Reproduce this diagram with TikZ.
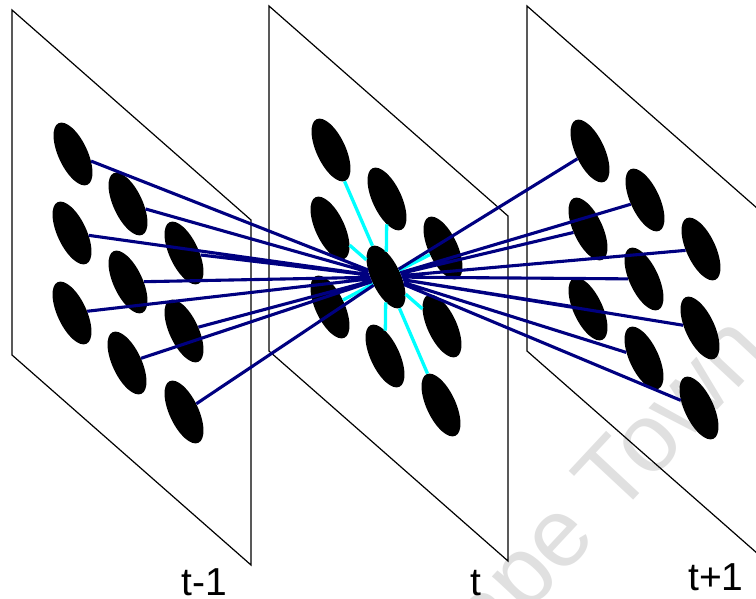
\documentclass[tikz,border=0pt]{standalone}
\usepackage{fontspec}
\setmainfont{Liberation Sans}
\usepackage{xcolor}
\usetikzlibrary{shapes.geometric,positioning}
\definecolor{linkblue}{RGB}{0,0,128}
\definecolor{nbrcyan}{RGB}{0,255,255}
\tikzset{
    cell/.style={ellipse, fill=black, minimum width=29pt, minimum height=68pt, inner sep=0pt, rotate=25},
    frame/.style={draw, line width=1.2pt, line join=miter},
    link/.style={draw=linkblue, line width=3.1pt},
    nbr/.style={draw=nbrcyan, line width=3.3pt},
    tlabel/.style={font=\fontsize{39}{40}\selectfont, inner sep=0pt, anchor=base},
    watermark/.style={font=\fontsize{97}{97}\selectfont, text=black!12, inner sep=0pt, anchor=base, rotate=47}
}

\begin{document}
\begin{tikzpicture}[x=1pt, y=-1pt]
    \useasboundingbox (0,0) rectangle (756,599);
    % Watermark
    \node[watermark] (mark) at (606,530) {Cape Town};
    % Frame t-1
    \draw[frame] (12,10) -- (251,220) -- (251,565) -- (12,355) -- cycle;
    % Frame t
    \draw[frame] (269,6) -- (508,216) -- (508,561) -- (269,351) -- cycle;
    % Frame t+1
    \draw[frame] (527,6) -- (766,216) -- (766,561) -- (527,351) -- cycle;

    % Cells at t-1
    \node[cell] (prev1) at (73,154) {};
    \node[cell] (prev2) at (128,204) {};
    \node[cell] (prev3) at (184,253) {};
    \node[cell] (prev4) at (72,233) {};
    \node[cell] (prev5) at (128,282) {};
    \node[cell] (prev6) at (184,331) {};
    \node[cell] (prev7) at (72,313) {};
    \node[cell] (prev8) at (127,363) {};
    \node[cell] (prev9) at (184,412) {};
    % Cells at t
    \node[cell] (cur1) at (331,150) {};
    \node[cell] (cur2) at (387,199) {};
    \node[cell] (cur3) at (443,248) {};
    \node[cell] (cur4) at (330,228) {};
    \node[cell] (cur5) at (386,277) {};
    \node[cell] (cur6) at (442,326) {};
    \node[cell] (cur7) at (330,307) {};
    \node[cell] (cur8) at (385,356) {};
    \node[cell] (cur9) at (441,405) {};
    % Cells at t+1
    \node[cell] (next1) at (590,151) {};
    \node[cell] (next2) at (645,200) {};
    \node[cell] (next3) at (701,249) {};
    \node[cell] (next4) at (588,229) {};
    \node[cell] (next5) at (644,279) {};
    \node[cell] (next6) at (700,328) {};
    \node[cell] (next7) at (588,309) {};
    \node[cell] (next8) at (644,358) {};
    \node[cell] (next9) at (699,408) {};

    % Neighbours in the same frame
    \draw[nbr] (cur5) -- (cur1) (cur5) -- (cur2) (cur5) -- (cur3) (cur5) -- (cur4)
               (cur5) -- (cur6) (cur5) -- (cur7) (cur5) -- (cur8) (cur5) -- (cur9);
    % Links to frame t-1
    \draw[link] (cur5) -- (prev1) (cur5) -- (prev2) (cur5) -- (prev3)
                (cur5) -- (prev4) (cur5) -- (prev5) (cur5) -- (prev6)
                (cur5) -- (prev7) (cur5) -- (prev8) (cur5) -- (prev9);
    % Links to frame t+1
    \draw[link] (cur5) -- (next1) (cur5) -- (next2) (cur5) -- (next3)
                (cur5) -- (next4) (cur5) -- (next5) (cur5) -- (next6)
                (cur5) -- (next7) (cur5) -- (next8) (cur5) -- (next9);

    % Labels
    \node[tlabel] (lprev) at (204,595) {t-1};
    \node[tlabel] (lcur) at (476,595) {t};
    \node[tlabel] (lnext) at (716,590) {t+1};
\end{tikzpicture}
\end{document}
